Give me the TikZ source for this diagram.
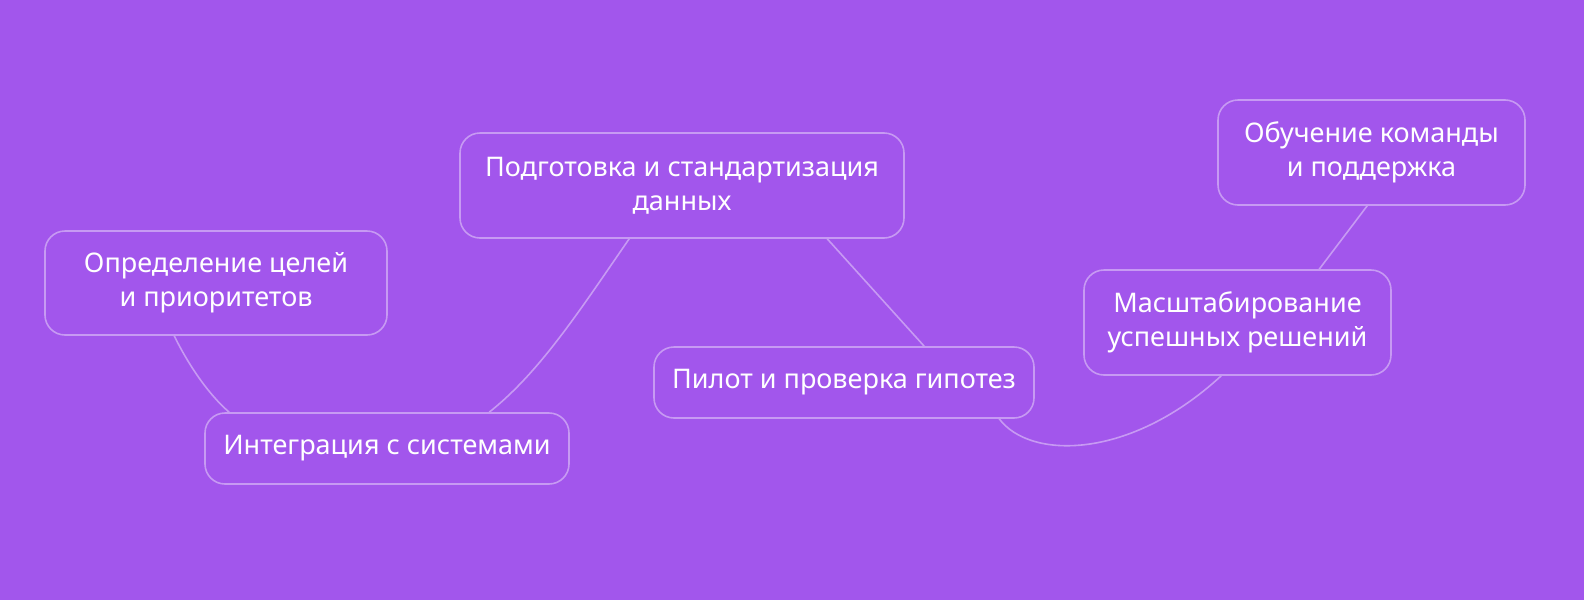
\documentclass[tikz,border=0pt]{standalone}
\usepackage{fontspec}
\setmainfont{Noto Sans}
\usetikzlibrary{calc}
\definecolor{bgpurple}{HTML}{A256EC}
\definecolor{edgelav}{HTML}{C79AF3}
\tikzset{
  stepbox/.style={draw=edgelav, line width=1.6pt, rounded corners=20pt, text=white,
    align=center, inner sep=0pt, font=\fontsize{27}{34}\selectfont},
  link/.style={draw=edgelav, line width=1.6pt}
}
\begin{document}
\begin{tikzpicture}[x=1pt,y=-1pt]
\fill[bgpurple] (0,0) rectangle (1584,600);
\useasboundingbox (0,0) rectangle (1584,600);
\node[stepbox, minimum width=342pt, minimum height=104pt] (b1) at (216,283) {Определение целей\\ и приоритетов};
\node[stepbox, minimum width=364pt, minimum height=71pt] (b2) at (387,448.5) {Интеграция с системами};
\node[stepbox, minimum width=444pt, minimum height=105pt] (b3) at (682,185.5) {Подготовка и стандартизация\\данных};
\node[stepbox, minimum width=380pt, minimum height=71pt] (b4) at (844,382.5) {Пилот и проверка гипотез};
\node[stepbox, minimum width=307pt, minimum height=105pt] (b5) at (1237.5,322.5) {Масштабирование\\успешных решений};
\node[stepbox, minimum width=307pt, minimum height=105pt] (b6) at (1371.5,152.5) {Обучение команды\\и поддержка};
\coordinate (c1s) at ($(b1.south west)+(130,0)$);
\coordinate (c2n) at ($(b2.north west)+(25,0)$);
\coordinate (c2m) at ($(b2.north west)+(285,0)$);
\coordinate (c3s) at ($(b3.south west)+(170,0)$);
\coordinate (c3r) at ($(b3.south west)+(368,0)$);
\coordinate (c4n) at ($(b4.north west)+(271,0)$);
\coordinate (c4s) at ($(b4.south west)+(346,0)$);
\coordinate (c5s) at ($(b5.south west)+(138,0)$);
\coordinate (c5n) at ($(b5.north west)+(236,0)$);
\coordinate (c6s) at ($(b6.south west)+(150,0)$);
\draw[link] (c1s) .. controls (188,364) and (208,394) .. (c2n);
\draw[link] (c2m) .. controls (540,372) and (580,310) .. (c3s);
\draw[link] (c3r) -- (c4n);
\draw[link] (c4s) .. controls (1030,460) and (1130,460) .. (c5s);
\draw[link] (c5n) -- (c6s);
\end{tikzpicture}
\end{document}
